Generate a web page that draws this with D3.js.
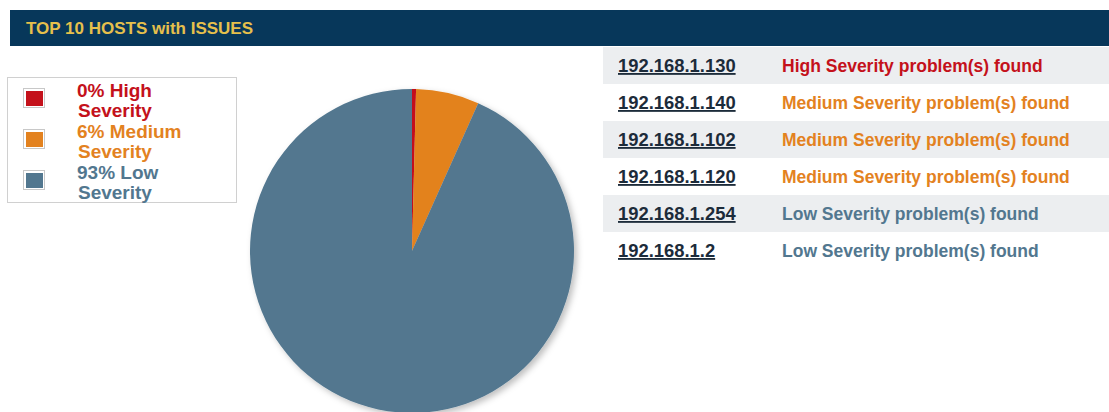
<!DOCTYPE html>
<html>
<head>
<meta charset="utf-8">
<script src="https://cdn.jsdelivr.net/npm/d3@7"></script>
<style>
  body { margin: 0; background: #fff; font-family: Arial, "Liberation Sans", sans-serif; }
</style>
</head>
<body>
<div id="chart"></div>
<script>
/* Top 10 hosts pie + host table */

const width = 1109,
    height = 412;

// data
const severities = ["High", "Medium", "Low"];
const shares = [0.4, 6.3, 93.3];
const legendLabels = ["0% High", "6% Medium", "93% Low"];
const colors = ["#c4111b", "#e3821f", "#52778f"];

const hosts = ["192.168.1.130", "192.168.1.140", "192.168.1.102", "192.168.1.120", "192.168.1.254", "192.168.1.2"];
const hostSeverity = ["High", "Medium", "Medium", "Medium", "Low", "Low"];

const color = d3.scaleOrdinal().domain(severities).range(colors);

const svg = d3.select("#chart")
    .append("svg")
    .attr("width", width)
    .attr("height", height);

// shadow for the pie
const defs = svg.append("defs");
const f = defs.append("filter").attr("id", "shadow")
    .attr("x", "-10%").attr("y", "-10%").attr("width", "130%").attr("height", "130%");
f.append("feDropShadow")
    .attr("dx", 3).attr("dy", 3).attr("stdDeviation", 3)
    .attr("flood-color", "#000").attr("flood-opacity", 0.25);

// header bar
svg.append("rect")
    .attr("x", 10).attr("y", 10)
    .attr("width", width - 10).attr("height", 36)
    .attr("fill", "#07375a");

svg.append("text")
    .attr("x", 26).attr("y", 34)
    .attr("fill", "#e6c04c")
    .attr("font-size", 17)
    .attr("font-weight", "bold")
    .text("TOP 10 HOSTS with ISSUES");

// pie
const pieData = d3.pie().sort(null).value(d => d)(shares);
const arc = d3.arc().innerRadius(0).outerRadius(162);

const pieG = svg.append("g")
    .attr("transform", "translate(412,251)")
    .attr("filter", "url(#shadow)");

pieG.selectAll("path")
    .data(pieData)
    .join("path")
    .attr("d", arc)
    .attr("fill", (d, i) => color(severities[i]));

// legend
const legend = svg.append("g");
legend.append("rect")
    .attr("x", 7.5).attr("y", 77.5)
    .attr("width", 229).attr("height", 125)
    .attr("fill", "#fff")
    .attr("stroke", "#d0d0d0");

const item = legend.selectAll(".item")
    .data(severities)
    .join("g")
    .attr("class", "item")
    .attr("transform", (d, i) => `translate(0,${88 + i * 41})`);

item.append("rect")
    .attr("x", 23.5).attr("y", 0.5)
    .attr("width", 21).attr("height", 19)
    .attr("fill", "#fff")
    .attr("stroke", "#c8c8c8");

item.append("rect")
    .attr("x", 26).attr("y", 3)
    .attr("width", 17).attr("height", 15)
    .attr("fill", d => color(d));

const lt = item.append("text")
    .attr("font-size", 19)
    .attr("font-weight", "bold")
    .attr("fill", d => color(d));
lt.append("tspan").attr("x", 77).attr("y", 9).text((d, i) => legendLabels[i]);
lt.append("tspan").attr("x", 78).attr("y", 29).text("Severity");

// host table
const rowH = 37;
const rows = svg.selectAll(".row")
    .data(hosts)
    .join("g")
    .attr("class", "row")
    .attr("transform", (d, i) => `translate(0,${47 + i * rowH})`);

rows.append("rect")
    .attr("x", 603).attr("y", 0)
    .attr("width", width - 603).attr("height", rowH)
    .attr("fill", (d, i) => i % 2 === 0 ? "#eceef0" : "#fff");

rows.append("text")
    .attr("x", 618).attr("y", 25)
    .attr("font-size", 18.4)
    .attr("font-weight", "bold")
    .attr("fill", "#1c2b3a")
    .attr("text-decoration", "underline")
    .text(d => d);

rows.append("text")
    .attr("x", 782).attr("y", 25)
    .attr("font-size", 17.5)
    .attr("font-weight", "bold")
    .attr("fill", (d, i) => color(hostSeverity[i]))
    .text((d, i) => `${hostSeverity[i]} Severity problem(s) found`);
</script>
</body>
</html>
